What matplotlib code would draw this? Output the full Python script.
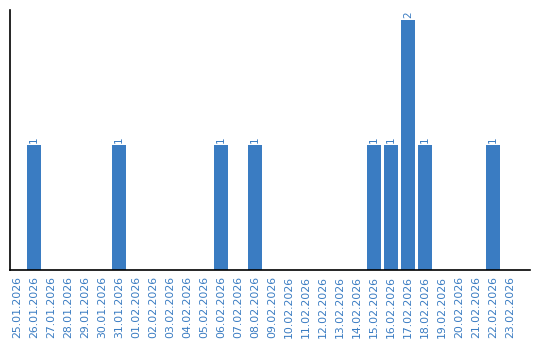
import matplotlib
matplotlib.use("Agg")
import matplotlib.pyplot as plt
import numpy as np

dates = ["25.01.2026", "26.01.2026", "27.01.2026", "28.01.2026", "29.01.2026", "30.01.2026",
         "31.01.2026", "01.02.2026", "02.02.2026", "03.02.2026", "04.02.2026", "05.02.2026",
         "06.02.2026", "07.02.2026", "08.02.2026", "09.02.2026", "10.02.2026", "11.02.2026",
         "12.02.2026", "13.02.2026", "14.02.2026", "15.02.2026", "16.02.2026", "17.02.2026",
         "18.02.2026", "19.02.2026", "20.02.2026", "21.02.2026", "22.02.2026", "23.02.2026"]
values = [0, 1, 0, 0, 0, 0, 1, 0, 0, 0, 0, 0, 1, 0, 1, 0, 0, 0, 0, 0, 0, 1, 1, 2, 1, 0, 0, 0, 1, 0]

color = "#3a7cc2"
fig = plt.figure(figsize=(5.4, 3.4), dpi=100)
ax = fig.add_axes([10/540, 70/340, 520/540, 260/340])
x = np.arange(len(dates))
ax.bar(x, values, width=0.82, color=color)
for xi, v in zip(x, values):
    if v > 0:
        ax.text(xi, v + 0.02, str(v), rotation=90, ha="center", va="bottom",
                color=color, fontsize=7.5)
ax.set_xlim(-0.41, 30.18)
ax.set_ylim(0, 2.08)
ax.set_xticks(x)
ax.set_xticklabels(dates, rotation=90, color=color, fontsize=7.8)
ax.tick_params(axis="x", length=0, pad=4)
ax.set_yticks([])
for s in ["top", "right"]:
    ax.spines[s].set_visible(False)
ax.spines["left"].set_linewidth(1.2)
ax.spines["bottom"].set_linewidth(1.2)
fig.savefig("out.png", dpi=100)
